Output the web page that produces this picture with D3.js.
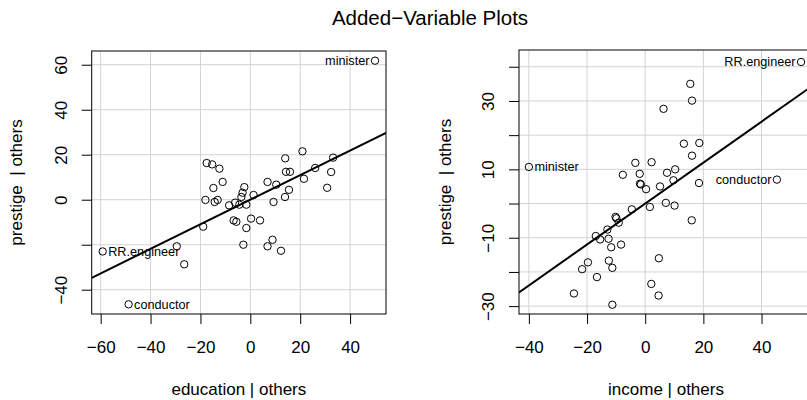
<!DOCTYPE html>
<html>
<head>
<meta charset="utf-8">
<script src="https://cdn.jsdelivr.net/npm/d3@7"></script>
<style>
  body { margin: 0; background: #fff; }
  text { font-family: "Liberation Sans", Arial, sans-serif; fill: #000; white-space: pre; }
</style>
</head>
<body>
<svg id="chart" width="807" height="400"></svg>
<script>
// education | others vs prestige | others
const eduX = [50.0, -59.2, -48.8, 20.9, 33.2, 14.0, -17.5, -15.3, -12.4, 26.0, 14.3, 15.9, 32.4, 21.5, -11.1,
  6.9, 10.4, -2.4, -14.8, 30.8, 15.5, -3.1, 1.3, 13.9, -3.6, -18.0, -13.1, -14.3, 9.3, -6.1,
  -8.5, -4.4, -1.6, -6.7, -5.6, 0.3, 3.9, -1.6, -18.9, 8.9, -2.8, 6.9, 12.3, -29.5, -26.5];
const eduY = [61.8, -23.0, -46.5, 21.5, 18.7, 18.4, 16.3, 15.7, 13.8, 14.1, 12.4, 12.4, 12.3, 9.3, 7.9,
  7.9, 6.7, 5.6, 5.2, 5.3, 4.4, 3.1, 2.1, 1.2, 1.2, -0.1, -0.1, -1.0, -1.0, -1.3,
  -2.5, -2.2, -2.2, -9.2, -9.8, -8.4, -9.2, -12.6, -12.0, -17.8, -20.0, -20.7, -22.7, -20.7, -28.7];
const eduLabels = [
  { i: 0, text: "minister", side: "left" },
  { i: 1, text: "RR.engineer", side: "right" },
  { i: 2, text: "conductor", side: "right" }
];
const eduSlope = 0.5458;

// income | others vs prestige | others
const incX = [53.6, -40.0, 45.3, 15.5, 16.1, 6.3, 13.3, 18.6, 16.1, -3.4, 2.2, 10.3, -1.9, 7.5, -7.7,
  -1.8, -1.5, 9.7, 5.1, 0.3, 18.5, 7.1, 10.1, 1.6, -4.6, 16.0, -10.2, -9.9, -9.1, -13.0,
  -17.0, -15.5, -12.6, -11.7, -8.3, -19.7, -21.7, -12.5, -11.3, 4.7, -16.6, 2.1, -24.5, 4.6, -11.3];
const incY = [41.4, 10.7, 7.0, 35.0, 30.1, 27.7, 17.5, 17.7, 14.0, 11.9, 12.1, 10.0, 8.7, 9.0, 8.4,
  5.8, 5.6, 6.8, 5.0, 4.2, 6.0, 0.2, -0.6, -1.0, -1.7, -4.9, -3.9, -4.3, -5.6, -7.6,
  -9.5, -10.5, -10.3, -12.8, -12.0, -17.2, -19.2, -16.7, -18.8, -16.0, -21.5, -23.5, -26.3, -26.9, -29.6];
const incLabels = [
  { i: 0, text: "RR.engineer", side: "left" },
  { i: 1, text: "minister", side: "right" },
  { i: 2, text: "conductor", side: "left" }
];
const incSlope = 0.5987;

const eduXTicks = [-60, -40, -20, 0, 20, 40];
const eduYTicks = [-40, -20, 0, 20, 40, 60];
const eduYTickLabels = [-40, 0, 20, 40, 60];
const incXTicks = [-40, -20, 0, 20, 40];
const incYTicks = [-30, -20, -10, 0, 10, 20, 30, 40];
const incYTickLabels = [-30, -10, 10, 30];

const svg = d3.select("#chart");
const fmt = d => d < 0 ? "\u2212" + Math.abs(d) : String(d);

svg.append("text")
  .attr("x", 430).attr("y", 25)
  .attr("text-anchor", "middle")
  .attr("font-size", "20.5px")
  .text("Added\u2212Variable Plots");

function panel(cfg) {
  const x = d3.scaleLinear().domain(cfg.xDomain).range([cfg.left, cfg.right]);
  const y = d3.scaleLinear().domain(cfg.yDomain).range([cfg.bottom, cfg.top]);
  const g = svg.append("g");

  g.append("clipPath").attr("id", cfg.id)
    .append("rect")
    .attr("x", cfg.left).attr("y", cfg.top)
    .attr("width", cfg.right - cfg.left).attr("height", cfg.bottom - cfg.top);

  const inner = g.append("g").attr("clip-path", `url(#${cfg.id})`);

  // grid
  inner.selectAll(".vgrid").data(cfg.xTicks).enter().append("line")
    .attr("x1", d => x(d)).attr("x2", d => x(d))
    .attr("y1", cfg.top).attr("y2", cfg.bottom)
    .attr("stroke", "#d3d3d3").attr("stroke-width", 1);
  inner.selectAll(".hgrid").data(cfg.yTicks).enter().append("line")
    .attr("x1", cfg.left).attr("x2", cfg.right)
    .attr("y1", d => y(d)).attr("y2", d => y(d))
    .attr("stroke", "#d3d3d3").attr("stroke-width", 1);

  // points
  inner.selectAll("circle").data(cfg.xs).enter().append("circle")
    .attr("cx", d => x(d))
    .attr("cy", (d, i) => y(cfg.ys[i]))
    .attr("r", 3.7)
    .attr("fill", "none").attr("stroke", "#000").attr("stroke-width", 1);

  // fitted line
  const x0 = cfg.xDomain[0], x1 = cfg.xDomain[1];
  inner.append("line")
    .attr("x1", x(x0)).attr("y1", y(cfg.slope * x0))
    .attr("x2", x(x1)).attr("y2", y(cfg.slope * x1))
    .attr("stroke", "#000").attr("stroke-width", 2);

  // point labels
  g.selectAll(".lab").data(cfg.labels).enter().append("text")
    .attr("x", d => x(cfg.xs[d.i]) + (d.side === "left" ? -5.5 : 5.5))
    .attr("y", d => y(cfg.ys[d.i]))
    .attr("dy", "0.35em")
    .attr("text-anchor", d => d.side === "left" ? "end" : "start")
    .attr("font-size", "12.7px")
    .text(d => d.text);

  // box
  g.append("rect")
    .attr("x", cfg.left).attr("y", cfg.top)
    .attr("width", cfg.right - cfg.left).attr("height", cfg.bottom - cfg.top)
    .attr("fill", "none").attr("stroke", "#000").attr("stroke-width", 1);

  // x axis
  const xAxis = g.append("g").attr("transform", `translate(0,${cfg.bottom})`)
    .call(d3.axisBottom(x).tickValues(cfg.xTicks).tickSize(10).tickFormat(fmt));
  xAxis.select(".domain").remove();
  xAxis.selectAll("text").attr("font-size", "17px").attr("font-family", null).attr("dy", null).attr("y", 39);

  // y axis
  const yAxis = g.append("g").attr("transform", `translate(${cfg.left},0)`)
    .call(d3.axisLeft(y).tickValues(cfg.yTicks).tickSize(10)
      .tickFormat(d => cfg.yTickLabels.includes(d) ? fmt(d) : ""));
  yAxis.select(".domain").remove();
  yAxis.selectAll("text")
    .attr("font-size", "17px").attr("font-family", null)
    .attr("x", null).attr("dy", null)
    .attr("text-anchor", "middle")
    .attr("transform", "translate(-25,0) rotate(-90)");

  g.selectAll(".tick line").attr("stroke", "#000");

  // axis titles
  g.append("text")
    .attr("x", (cfg.left + cfg.right) / 2).attr("y", 395)
    .attr("text-anchor", "middle").attr("font-size", "17px")
    .text(cfg.xTitle);
  g.append("text")
    .attr("transform", `translate(${cfg.yTitleX},${(cfg.top + cfg.bottom) / 2}) rotate(-90)`)
    .attr("text-anchor", "middle").attr("font-size", "17px")
    .text("prestige  | others");
}

panel({
  id: "clipEdu", left: 91.7, right: 386, top: 51, bottom: 314,
  xDomain: [-63.6, 54.4], yDomain: [-50.8, 66.1],
  xs: eduX, ys: eduY, labels: eduLabels, slope: eduSlope,
  xTicks: eduXTicks, yTicks: eduYTicks, yTickLabels: eduYTickLabels,
  xTitle: "education | others", yTitleX: 22
});

panel({
  id: "clipInc", left: 519, right: 813, top: 50, bottom: 314,
  xDomain: [-43.4, 57.7], yDomain: [-32.3, 44.9],
  xs: incX, ys: incY, labels: incLabels, slope: incSlope,
  xTicks: incXTicks, yTicks: incYTicks, yTickLabels: incYTickLabels,
  xTitle: "income | others", yTitleX: 451
});
</script>
</body>
</html>
